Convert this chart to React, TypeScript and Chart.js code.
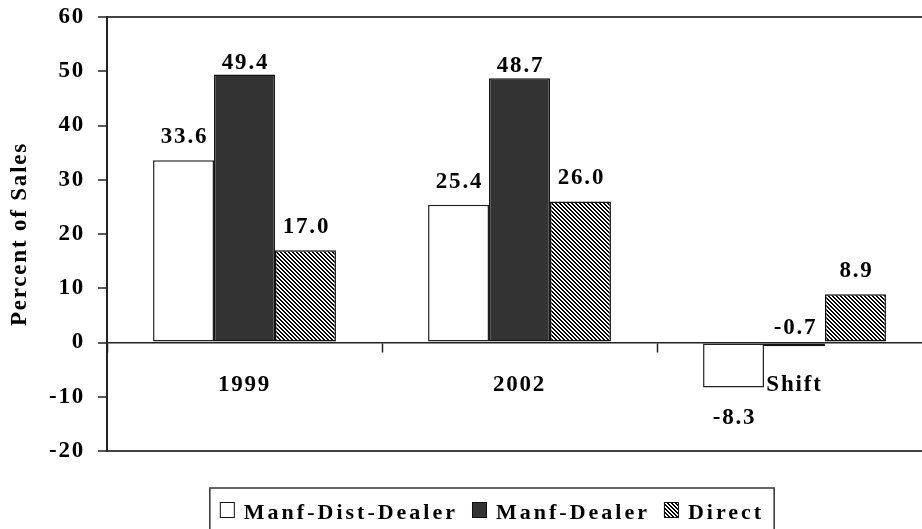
import React, { useEffect, useRef } from 'react';
import { Chart, registerables } from 'chart.js';

Chart.register(...registerables);

const categories = ['1999', '2002', 'Shift'];
const seriesNames = ['Manf-Dist-Dealer', 'Manf-Dealer', 'Direct'];
const manfDistDealer = [33.6, 25.4, -8.3];
const manfDealer = [49.4, 48.7, -0.7];
const direct = [17.0, 26.0, 8.9];
const yMin = -20;
const yMax = 60;
const yStep = 10;
const yTitle = 'Percent of Sales';

const FONT = '"Liberation Serif", "Times New Roman", Times, serif';

function makeHatch(): CanvasPattern | string {
  const c = document.createElement('canvas');
  c.width = 4;
  c.height = 4;
  const g = c.getContext('2d');
  if (!g) return '#888';
  const img = g.createImageData(4, 4);
  for (let y = 0; y < 4; y++) {
    for (let x = 0; x < 4; x++) {
      const d = (((x - y) % 4) + 4) % 4;
      const black = d === 0 || d === 1;
      const i = (y * 4 + x) * 4;
      const v = black ? 0 : 255;
      img.data[i] = v;
      img.data[i + 1] = v;
      img.data[i + 2] = v;
      img.data[i + 3] = 255;
    }
  }
  g.putImageData(img, 0, 0);
  return g.createPattern(c, 'repeat') || '#888';
}

const spacingPlugin = {
  id: 'spacing',
  beforeDraw(chart: any) {
    (chart.ctx as any).letterSpacing = '1.8px';
  },
};

const dataLabelsPlugin = {
  id: 'dataLabels',
  afterDatasetsDraw(chart: any) {
    const ctx = chart.ctx as CanvasRenderingContext2D;
    const zero = chart.scales.y.getPixelForValue(0);
    ctx.save();
    ctx.font = `bold 23px ${FONT}`;
    ctx.fillStyle = '#000';
    ctx.textAlign = 'center';
    ctx.textBaseline = 'alphabetic';
    chart.data.datasets.forEach((ds: any, i: number) => {
      const meta = chart.getDatasetMeta(i);
      meta.data.forEach((el: any, j: number) => {
        const v = ds.data[j] as number;
        let y: number;
        if (v >= 0) y = el.y - (v > 45 ? 6 : 17);
        else if (v > -2) y = zero - 9;
        else y = el.y + 36;
        ctx.fillText(v.toFixed(1), el.x + 1, y);
      });
    });
    ctx.restore();
  },
};

const legendPlugin = {
  id: 'boxLegend',
  afterDraw(chart: any) {
    const ctx = chart.ctx as CanvasRenderingContext2D;
    ctx.save();
    (ctx as any).letterSpacing = '3px';
    ctx.font = `bold 22px ${FONT}`;
    const box = 14;
    const gapBoxText = 10;
    const gapItems = 14;
    const ds = chart.data.datasets;
    const widths = ds.map((d: any) => ctx.measureText(d.label).width);
    const total =
      widths.reduce((a: number, b: number) => a + b, 0) +
      ds.length * (box + gapBoxText) +
      (ds.length - 1) * gapItems;
    const cx = 492;
    let x = cx - total / 2;
    const top = 488;
    ctx.strokeStyle = '#333';
    ctx.lineWidth = 1.5;
    ctx.strokeRect(x - 10, top, total + 20, 70);
    const boxTop = 502;
    const baseline = 519;
    ds.forEach((d: any, i: number) => {
      ctx.fillStyle = d.backgroundColor;
      ctx.fillRect(x, boxTop, box, box + 1);
      ctx.strokeStyle = '#111';
      ctx.lineWidth = 1;
      ctx.strokeRect(x + 0.5, boxTop + 0.5, box, box + 1);
      ctx.fillStyle = '#000';
      ctx.textAlign = 'left';
      ctx.textBaseline = 'alphabetic';
      ctx.fillText(d.label, x + box + gapBoxText, baseline);
      x += box + gapBoxText + widths[i] + gapItems;
    });
    ctx.restore();
  },
};

export default function App() {
  const canvasRef = useRef<HTMLCanvasElement | null>(null);

  useEffect(() => {
    if (!canvasRef.current) return;
    const hatch = makeHatch();
    const chart = new Chart(canvasRef.current, {
      type: 'bar',
      data: {
        labels: categories,
        datasets: [
          {
            label: seriesNames[0],
            data: manfDistDealer,
            backgroundColor: '#ffffff',
            borderColor: '#222',
            borderWidth: 1.5,
            borderSkipped: false,
          },
          {
            label: seriesNames[1],
            data: manfDealer,
            backgroundColor: '#333333',
            borderColor: '#111',
            borderWidth: 1.5,
            borderSkipped: false,
          },
          {
            label: seriesNames[2],
            data: direct,
            backgroundColor: hatch as any,
            borderColor: '#111',
            borderWidth: 1.5,
            borderSkipped: false,
          },
        ],
      },
      options: {
        animation: false,
        responsive: true,
        maintainAspectRatio: false,
        layout: { padding: { top: 17, bottom: 94, left: 0, right: 8 } },
        plugins: {
          legend: { display: false },
          tooltip: { enabled: false },
        },
        datasets: {
          bar: { categoryPercentage: 0.665, barPercentage: 1.0 },
        },
        scales: {
          x: {
            position: { y: 0 } as any,
            offset: true,
            grid: {
              display: true,
              offset: true,
              drawOnChartArea: false,
              drawTicks: true,
              tickLength: 9,
              tickColor: '#222',
              tickWidth: 1.5,
            },
            border: { display: true, color: '#222', width: 1.5, z: 1 },
            ticks: {
              color: '#000',
              font: { family: FONT, size: 23, weight: 'bold' },
              padding: 20,
              maxRotation: 0,
              autoSkip: false,
            },
          },
          y: {
            min: yMin,
            max: yMax,
            afterFit: (s: any) => {
              s.width = 107;
              s.paddingTop = 0;
              s.paddingBottom = 0;
            },
            grid: {
              color: (c: any) =>
                c.tick && (c.tick.value === yMax || c.tick.value === yMin) ? '#444' : 'rgba(0,0,0,0)',
              lineWidth: 2,
              drawTicks: true,
              tickLength: 9,
              tickColor: '#222',
              tickWidth: 1.5,
            },
            border: { display: true, color: '#222', width: 2 },
            ticks: {
              stepSize: yStep,
              color: '#000',
              font: { family: FONT, size: 23, weight: 'bold' },
              padding: 13,
            },
            title: {
              display: true,
              text: yTitle,
              color: '#000',
              font: { family: FONT, size: 23, weight: 'bold' },
              padding: { top: 6, bottom: 0 },
            },
          },
        },
      },
      plugins: [spacingPlugin, dataLabelsPlugin, legendPlugin],
    });
    return () => chart.destroy();
  }, []);

  return (
    <div
      style={{
        position: 'fixed',
        left: 0,
        top: 0,
        width: 922,
        height: 529,
        overflow: 'hidden',
        background: '#fff',
      }}
    >
      <div style={{ position: 'relative', width: 940, height: 545 }}>
        <canvas ref={canvasRef} />
      </div>
    </div>
  );
}
